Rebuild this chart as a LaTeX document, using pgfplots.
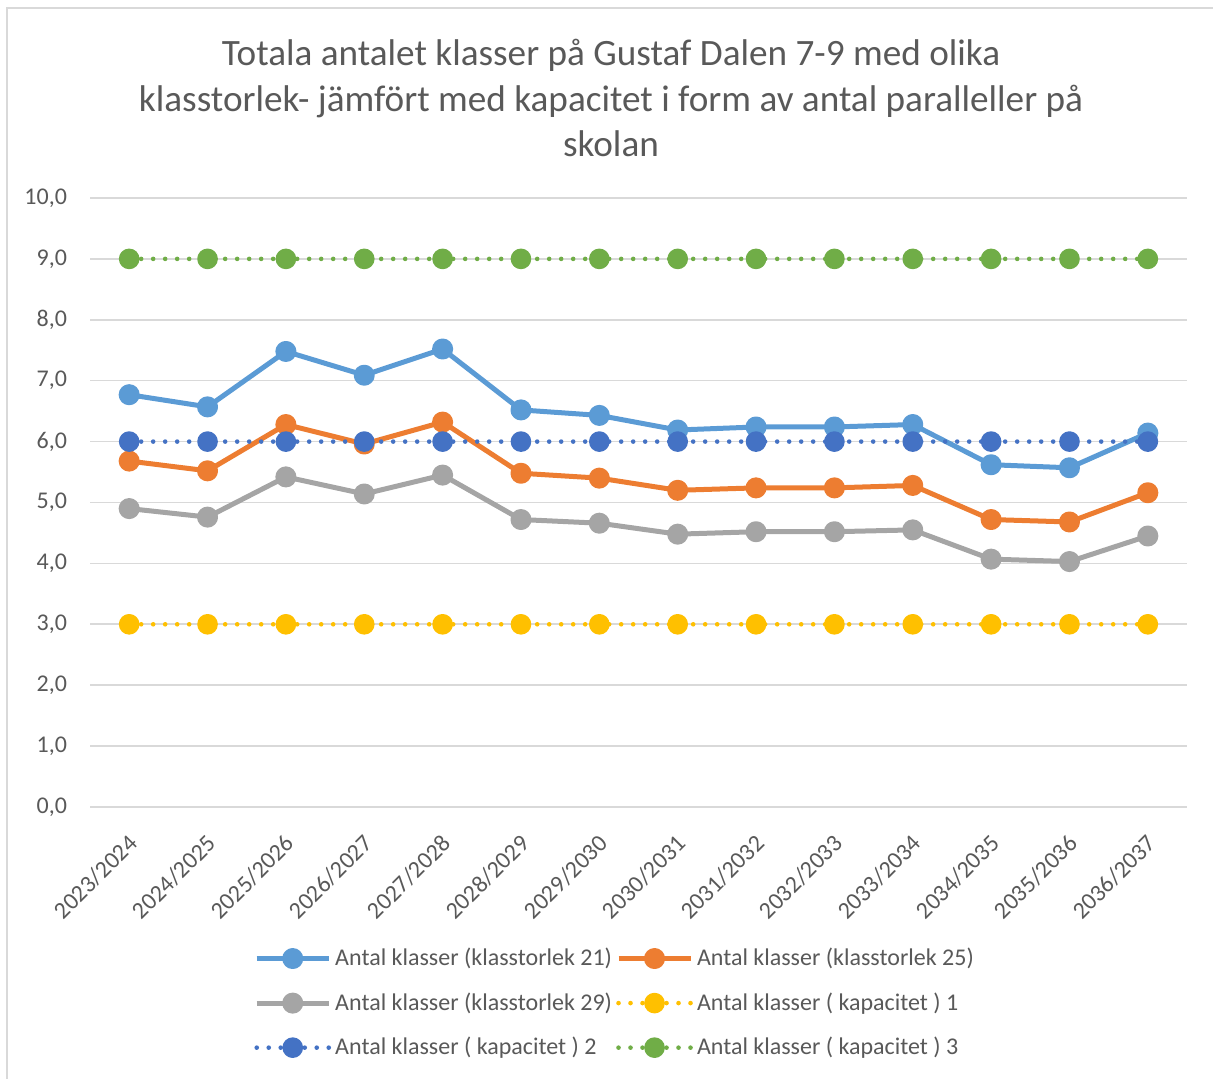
\documentclass[border=0pt]{standalone}
\usepackage{pgfplots}
\pgfplotsset{compat=1.18}
\usepackage{fontspec}
\setmainfont{Carlito}
\definecolor{cA}{HTML}{5B9BD5}
\definecolor{cB}{HTML}{ED7D31}
\definecolor{cC}{HTML}{A5A5A5}
\definecolor{cD}{HTML}{FFC000}
\definecolor{cE}{HTML}{4472C4}
\definecolor{cF}{HTML}{70AD47}
\definecolor{gridc}{HTML}{D9D9D9}
\definecolor{txt}{HTML}{595959}
\begin{document}
\begin{tikzpicture}
\path[use as bounding box] (0,0) rectangle (606.5pt,539.5pt);
\draw[color=gridc, line width=1pt] (3.5pt,0) -- (3.5pt,535.5pt) -- (606.5pt,535.5pt);
\node[font=\fontsize{18.6}{22.75}\selectfont, text=txt, align=center] at (305.5pt,490.5pt)
 {Totala antalet klasser på Gustaf Dalen 7-9 med olika\\klasstorlek- jämfört med kapacitet i form av antal paralleller på\\skolan};
\begin{axis}[
  at={(45pt,136pt)}, anchor=south west,
  scale only axis, width=548.5pt, height=304.5pt,
  xmin=-0.5, xmax=13.5, ymin=0, ymax=10,
  ytick={0,1,...,10}, xtick={0,...,13},
  xticklabels={2023/2024,2024/2025,2025/2026,2026/2027,2027/2028,2028/2029,2029/2030,2030/2031,2031/2032,2032/2033,2033/2034,2034/2035,2035/2036,2036/2037},
  axis line style={draw=none}, major tick length=0pt,
  ymajorgrids, grid style={gridc, line width=0.8pt},
  tick label style={font=\fontsize{12}{14}\selectfont, text=txt},
  /pgf/number format/.cd, fixed, fixed zerofill, precision=1, use comma, assume math mode=true,
  /pgfplots/.cd,
  yticklabel style={anchor=east, xshift=-8pt},
  xticklabel style={rotate=45, anchor=north east, yshift=-5pt, xshift=-6.5pt},
  legend columns=2,
  legend style={draw=none, at={(0.4795,-0.322)}, anchor=center,
    font=\fontsize{12}{14}\selectfont, text=txt, row sep=8pt,
    /tikz/every even column/.append style={column sep=0pt}},
  legend cell align=left,
  legend image code/.code={\draw[#1, mark repeat=2, mark phase=2] plot coordinates {(0pt,0pt) (18pt,0pt) (36pt,0pt)};},
  every axis plot/.append style={line join=round},
]
\addplot[cA, line width=2.5pt, mark=*, mark size=4pt, mark options={solid, fill=cA, draw=cA}] coordinates {
(0,6.77) (1,6.57) (2,7.48) (3,7.09) (4,7.52) (5,6.52) (6,6.43) (7,6.19) (8,6.24) (9,6.24) (10,6.28) (11,5.62) (12,5.57) (13,6.14)};
\addlegendentry{Antal klasser (klasstorlek 21)}
\addplot[cB, line width=2.5pt, mark=*, mark size=4pt, mark options={solid, fill=cB, draw=cB}] coordinates {
(0,5.68) (1,5.52) (2,6.28) (3,5.96) (4,6.32) (5,5.48) (6,5.40) (7,5.20) (8,5.24) (9,5.24) (10,5.28) (11,4.72) (12,4.68) (13,5.16)};
\addlegendentry{Antal klasser (klasstorlek 25)}
\addplot[cC, line width=2.5pt, mark=*, mark size=4pt, mark options={solid, fill=cC, draw=cC}] coordinates {
(0,4.90) (1,4.76) (2,5.42) (3,5.14) (4,5.45) (5,4.72) (6,4.66) (7,4.48) (8,4.52) (9,4.52) (10,4.55) (11,4.07) (12,4.03) (13,4.45)};
\addlegendentry{Antal klasser (klasstorlek 29)}
\addplot[cD, line width=2.3pt, line cap=round, dash pattern=on 0pt off 6pt, mark=*, mark size=4pt, mark options={solid, fill=cD, draw=cD}] coordinates {
(0,3) (1,3) (2,3) (3,3) (4,3) (5,3) (6,3) (7,3) (8,3) (9,3) (10,3) (11,3) (12,3) (13,3)};
\addlegendentry{Antal klasser ( kapacitet ) 1}
\addplot[cE, line width=2.3pt, line cap=round, dash pattern=on 0pt off 6pt, mark=*, mark size=4pt, mark options={solid, fill=cE, draw=cE}] coordinates {
(0,6) (1,6) (2,6) (3,6) (4,6) (5,6) (6,6) (7,6) (8,6) (9,6) (10,6) (11,6) (12,6) (13,6)};
\addlegendentry{Antal klasser ( kapacitet ) 2}
\addplot[cF, line width=2.3pt, line cap=round, dash pattern=on 0pt off 6pt, mark=*, mark size=4pt, mark options={solid, fill=cF, draw=cF}] coordinates {
(0,9) (1,9) (2,9) (3,9) (4,9) (5,9) (6,9) (7,9) (8,9) (9,9) (10,9) (11,9) (12,9) (13,9)};
\addlegendentry{Antal klasser ( kapacitet ) 3}
\end{axis}
\end{tikzpicture}
\end{document}
